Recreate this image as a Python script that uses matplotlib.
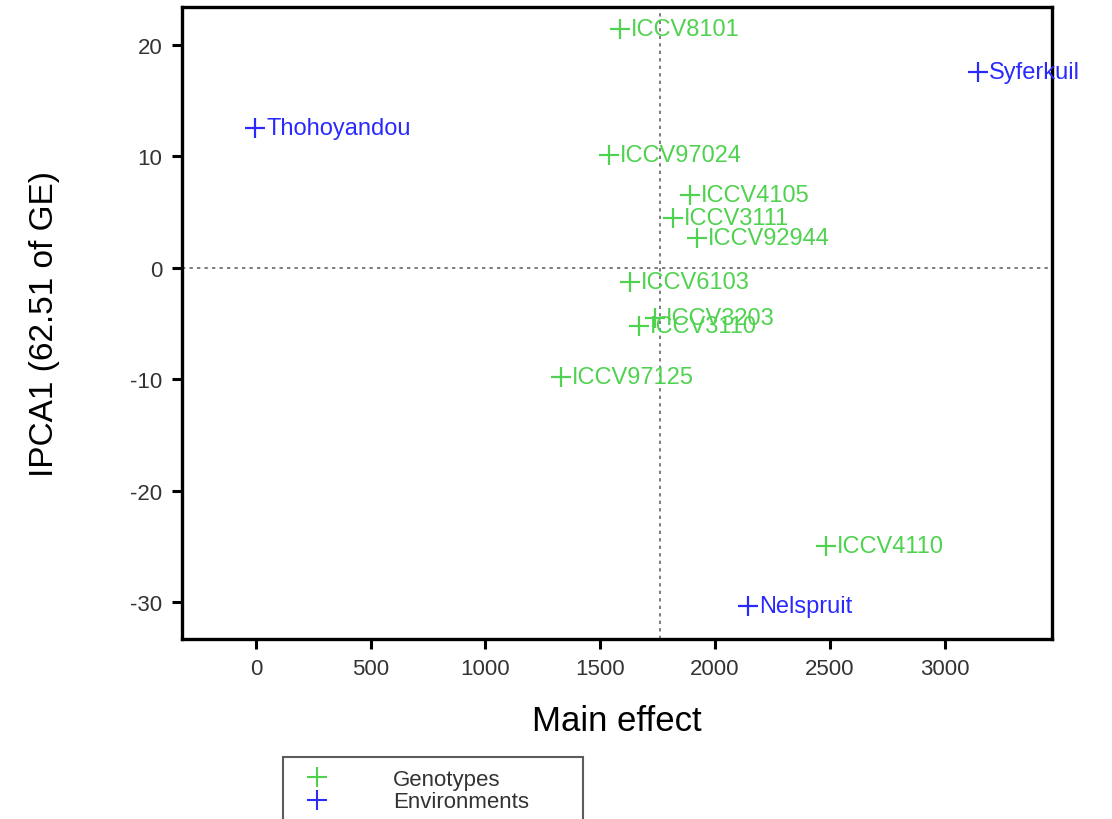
import matplotlib
matplotlib.use("Agg")
import matplotlib.pyplot as plt
from matplotlib.lines import Line2D

plt.rcParams['font.family'] = ['Liberation Sans', 'DejaVu Sans']
plt.rcParams['axes.unicode_minus'] = False

GREEN = "#4fd24f"
BLUE = "#2a2aff"

genotypes = ["ICCV8101", "ICCV97024", "ICCV4105", "ICCV3111", "ICCV92944",
             "ICCV6103", "ICCV3203", "ICCV3110", "ICCV97125", "ICCV4110"]
geno_x = [1586, 1538, 1891, 1817, 1922, 1630, 1739, 1669, 1329, 2484]
geno_y = [21.4, 10.1, 6.5, 4.5, 2.7, -1.3, -4.5, -5.2, -9.8, -25.0]

environments = ["Syferkuil", "Thohoyandou", "Nelspruit"]
env_x = [3146, -4, 2144]
env_y = [17.6, 12.5, -30.3]

mean_x = 1760
x_ticks = [0, 500, 1000, 1500, 2000, 2500, 3000]
y_ticks = [-30, -20, -10, 0, 10, 20]

fig = plt.figure(figsize=(11.12, 8.2), dpi=100)
ax = fig.add_axes([182 / 1112, 1 - 640 / 820, 870 / 1112, 632 / 820])

ax.axvline(mean_x, color="#666666", lw=1.2, ls=(0, (2, 2.5)), zorder=1)
ax.axhline(0, color="#666666", lw=1.2, ls=(0, (2, 2.5)), zorder=1)

ax.plot(geno_x, geno_y, ls="none", marker="+", ms=14, mew=1.6, color=GREEN, zorder=3)
ax.plot(env_x, env_y, ls="none", marker="+", ms=14, mew=1.6, color=BLUE, zorder=3)

for name, x, y in zip(genotypes, geno_x, geno_y):
    ax.annotate(name, (x, y), xytext=(8, 0), textcoords="offset points",
                ha="left", va="center", fontsize=17, color=GREEN, clip_on=False)
for name, x, y in zip(environments, env_x, env_y):
    ax.annotate(name, (x, y), xytext=(8, 0), textcoords="offset points",
                ha="left", va="center", fontsize=17, color=BLUE, clip_on=False,
                zorder=5)

ax.set_xlim(-322, 3468)
ax.set_ylim(-33.3, 23.4)
ax.set_xticks(x_ticks)
ax.set_yticks(y_ticks)
ax.tick_params(axis="both", labelsize=16, length=7, width=2.2, color="black",
               labelcolor="#333333", pad=7)
for sp in ax.spines.values():
    sp.set_linewidth(2.4)

ax.set_xlabel("Main effect", fontsize=25, labelpad=18)
ax.set_ylabel("IPCA1 (62.51 of GE)", fontsize=24)
ax.yaxis.set_label_coords(-0.14, 0.5)

handles = [Line2D([], [], ls="none", marker="+", ms=14, mew=1.5, color=GREEN),
           Line2D([], [], ls="none", marker="+", ms=14, mew=1.5, color=BLUE)]
leg = fig.legend(handles, ["Genotypes", "Environments"],
                 loc="upper left", bbox_to_anchor=(283 / 1112, 0, 300 / 1112, 62 / 820),
                 mode="expand", fontsize=16, handlelength=2, handletextpad=2.4,
                 borderpad=0.55, labelspacing=0.05, borderaxespad=0, fancybox=False)
leg.get_frame().set_edgecolor("#333333")
leg.get_frame().set_linewidth(1.5)
for t in leg.get_texts():
    t.set_color("#333333")

fig.savefig("out.png", dpi=100)
